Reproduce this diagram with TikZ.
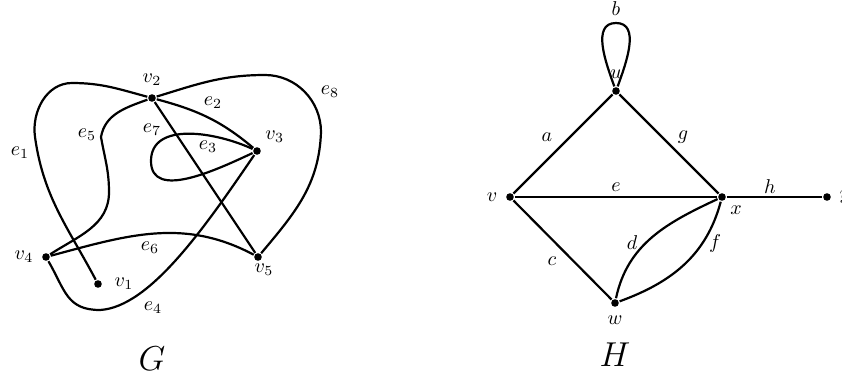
\documentclass[tikz,border=0pt]{standalone}
\usepackage{amsmath}
\usepackage{amssymb}
\usepackage{tikz}
\usetikzlibrary{positioning}

\begin{document}
\begin{tikzpicture}[x=0.5pt, y=0.5pt, line width=1.1pt,
    vtx/.style={circle, fill, inner sep=0pt, minimum size=3.8pt},
    lbl/.style={inner sep=1pt}]
    \useasboundingbox (0,0) rectangle (842,377);

    % graph G
    \node[vtx, label={[label distance=2pt]right:$v_1$}] (v1) at (98,93) {};
    \node[vtx, label={above:$v_2$}] (v2) at (152,279) {};
    \node[vtx, label={[label distance=-2pt]above right:$v_3$}] (v3) at (257,226) {};
    \node[vtx, label={left:$v_4$}] (v4) at (46,120) {};
    \node[vtx, label={[label distance=-3pt, xshift=3pt]below:$v_5$}] (v5) at (258,120) {};

    \draw (v1) to[out=118,in=-82] (35,240) to[out=98,in=180] (72,294)
        to[out=0,in=165] (v2);
    \draw (v2) to[out=-15,in=140] (v3);
    \draw (v3) to[out=155,in=90] (151,216) to[out=-90,in=205] (v3);
    \draw (v3) .. controls (205,150) and (150,70) .. (100,67)
        to[out=180,in=-60,looseness=1.2] (v4);
    \draw (v2) to[out=200,in=80] (101,240) to[out=-80,in=90] (109,185)
        to[out=-90,in=33] (v4);
    \draw (v4) to[out=15,in=152] (v5);
    \draw (v2) -- (v5);
    \draw (v2) to[out=17,in=180] (265,302) to[out=0,in=90] (321,245)
        to[out=-92,in=50] (v5);

    \node[lbl] (le1) at (20,224) {$e_1$};
    \node[lbl] (le2) at (213,274) {$e_2$};
    \node[lbl] (le3) at (208,230) {$e_3$};
    \node[lbl] (le4) at (153,69) {$e_4$};
    \node[lbl] (le5) at (87,242) {$e_5$};
    \node[lbl] (le6) at (150,129) {$e_6$};
    \node[lbl] (le7) at (152,247) {$e_7$};
    \node[lbl] (le8) at (330,285) {$e_8$};
    \node[inner sep=0pt] (tG) at (152,18) {\LARGE $G$};

    % graph H
    \node[vtx, label={above:$u$}] (u) at (616,286) {};
    \node[vtx, label={left:$v$}] (v) at (510,180) {};
    \node[vtx, label={[label distance=-2pt]below right:$x$}] (x) at (722,180) {};
    \node[vtx, label={right:$y$}] (y) at (827,180) {};
    \node[vtx, label={below:$w$}] (w) at (615,74) {};
    \coordinate (top) at (616,354);

    \draw (u) to[out=110,in=180] (top) to[out=0,in=70] (u);
    \draw (u) -- (v);
    \draw (u) -- (x);
    \draw (v) -- (x);
    \draw (v) -- (w);
    \draw (x) -- (y);
    \draw (w) to[out=78,in=205] (x);
    \draw (w) to[out=20,in=255] (x);

    \node[lbl, above=2pt of top] (lb) {$b$};
    \node[lbl] (la) at (547,240) {$a$};
    \node[lbl] (lg) at (683,240) {$g$};
    \node[lbl] (le) at (616,190) {$e$};
    \node[lbl] (lh) at (770,190) {$h$};
    \node[lbl] (lc) at (552,116) {$c$};
    \node[lbl] (ld) at (632,134) {$d$};
    \node[lbl] (lf) at (715,134) {$f$};
    \node[inner sep=0pt] (tH) at (615,22) {\LARGE $H$};
\end{tikzpicture}
\end{document}
